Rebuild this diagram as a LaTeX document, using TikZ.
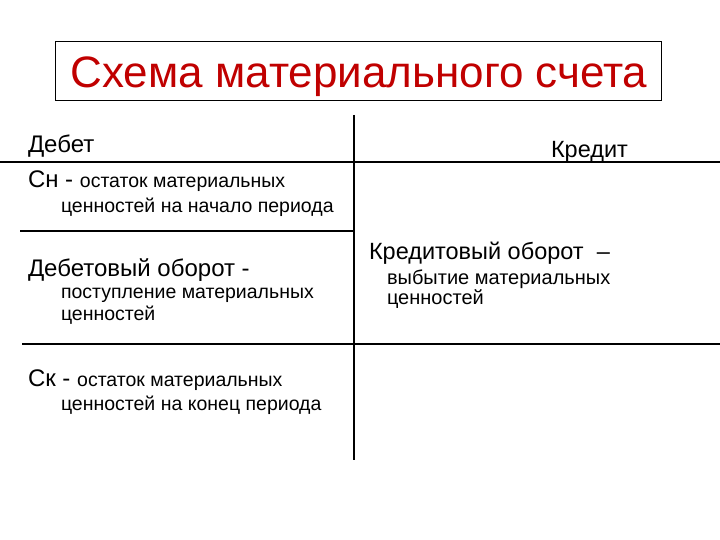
\documentclass[tikz,border=0pt]{standalone}
\usepackage{fontspec}
\setmainfont{Liberation Sans}
\definecolor{titlered}{RGB}{192,0,0}
\begin{document}
\begin{tikzpicture}[x=1pt,y=-1pt,
  txt/.style={anchor=base west,inner sep=0pt,outer sep=0pt},
  big/.style={font=\fontsize{24}{26}\selectfont},
  small/.style={font=\fontsize{19.5}{21}\selectfont},
  rbig/.style={font=\fontsize{23.5}{26}\selectfont},
  rsmall/.style={font=\fontsize{20}{22}\selectfont},
  rule/.style={line width=1.2pt,black}]
\useasboundingbox (0,0) rectangle (720,540);
% title
\draw[line width=1pt] (55,42) rectangle (661,101);
\node[anchor=base,inner sep=0pt,text=titlered,font=\fontsize{44}{48}\selectfont] (title) at (359,88) {Схема материального счета};
% rules
\draw[rule] (354,115) -- (354,460);
\draw[rule] (0,162) -- (720,162);
\draw[rule] (20,231) -- (354,231);
\draw[rule] (22,344) -- (720,344);
% left column
\node[txt,big] (deb) at (28,153) {Дебет};
\node[txt,rbig] (kred) at (551,158) {Кредит};
\node[txt,big] (sn) at (28,188) {Сн - {\fontsize{19.5}{21}\selectfont остаток материальных}};
\node[txt,small] (sn2) at (61,212) {ценностей на начало периода};
\node[txt,big] (dob) at (28,276) {Дебетовый оборот -};
\node[txt,small] (dob2) at (61,298) {поступление материальных};
\node[txt,small] (dob3) at (61,320) {ценностей};
\node[txt,rbig] (kob) at (369,259) {Кредитовый оборот\ \ –};
\node[txt,rsmall] (kob2) at (387,284) {выбытие материальных};
\node[txt,rsmall] (kob3) at (387,304) {ценностей};
\node[txt,big] (sk) at (28,386) {Ск - {\fontsize{19.5}{21}\selectfont остаток материальных}};
\node[txt,small] (sk2) at (61,410) {ценностей на конец периода};
\end{tikzpicture}
\end{document}
